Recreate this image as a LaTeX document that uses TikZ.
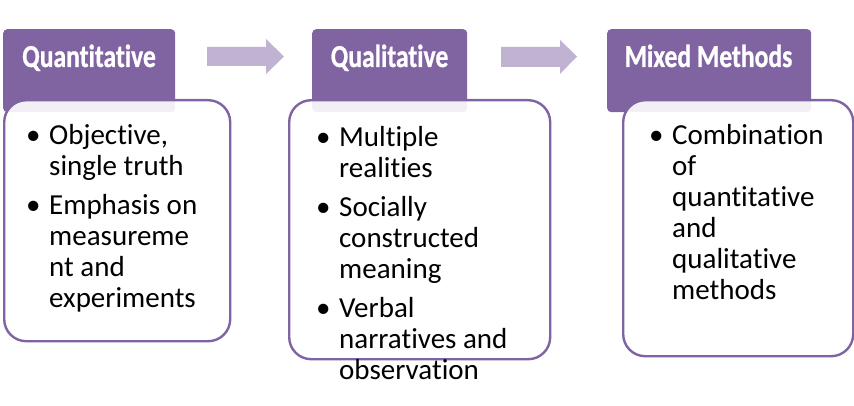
\documentclass[tikz,border=0pt]{standalone}
\usepackage{fontspec}
\setmainfont[Ligatures=NoCommon]{Carlito}
\newfontfamily\hdfont[FakeStretch=0.8, FakeBold=0.8, Ligatures=NoCommon]{Carlito}
\definecolor{accent}{HTML}{8064A2}
\definecolor{arrowc}{HTML}{C0B2D1}
\newcommand{\mybul}{\makebox[17pt][l]{\hspace{-6pt}\textbullet}}
\tikzset{
  hdbox/.style={fill=accent, rounded corners=4pt, inner sep=0pt, anchor=north west},
  bodybox/.style={draw=accent, line width=2.4pt, fill=white, fill opacity=0.9, rounded corners=22pt, inner sep=0pt, anchor=north west},
  hdtext/.style={text=white, font=\hdfont\bfseries\fontsize{32}{36}\selectfont, inner sep=0pt, anchor=base},
  bodytext/.style={text=black, font=\fontsize{29}{31}\selectfont, inner sep=0pt, anchor=base west, align=left},
  blockarrow/.style={fill=arrowc}
}
\begin{document}
\begin{tikzpicture}[x=1pt,y=-1pt]
\useasboundingbox (0,0) rectangle (854,406);
% headers
\node[hdbox, minimum width=172pt, minimum height=83pt] (h1) at (3,29) {};
\node[hdbox, minimum width=155pt, minimum height=83pt] (h2) at (312,29) {};
\node[hdbox, minimum width=204pt, minimum height=83pt] (h3) at (607,29) {};
\node[hdtext] (h1t) at (89,67) {Quantitative};
\node[hdtext] (h2t) at (389.5,67) {Qualitative};
\node[hdtext] (h3t) at (708.5,67) {Mixed Methods};
% arrows
\fill[blockarrow] (207,47) -- (266,47) -- (266,39) -- (284,56.5) -- (266,74) -- (266,66) -- (207,66) -- cycle;
\fill[blockarrow] (501,47) -- (560,47) -- (560,40) -- (577,56.5) -- (560,74) -- (560,67) -- (501,67) -- cycle;
% bodies
\node[bodybox, minimum width=226pt, minimum height=241pt] (b1) at (3,99) {};
\node[bodybox, minimum width=261pt, minimum height=259pt] (b2) at (288,99) {};
\node[bodybox, minimum width=230pt, minimum height=256pt] (b3) at (622,99) {};
% texts
\node[bodytext] (t1) at (32,145) {\begin{tabular}[t]{@{}l@{}l@{}}
\mybul & Objective,\\
 & single truth\\[8pt]
\mybul & Emphasis on\\
 & measureme\\
 & nt and\\
 & experiments
\end{tabular}};
\node[bodytext] (t2) at (322,147) {\begin{tabular}[t]{@{}l@{}l@{}}
\mybul & Multiple\\
 & realities\\[8pt]
\mybul & Socially\\
 & constructed\\
 & meaning\\[8pt]
\mybul & Verbal\\
 & narratives and\\
 & observation
\end{tabular}};
\node[bodytext] (t3) at (655,145) {\begin{tabular}[t]{@{}l@{}l@{}}
\mybul & Combination\\
 & of\\
 & quantitative\\
 & and\\
 & qualitative\\
 & methods
\end{tabular}};
\end{tikzpicture}
\end{document}
